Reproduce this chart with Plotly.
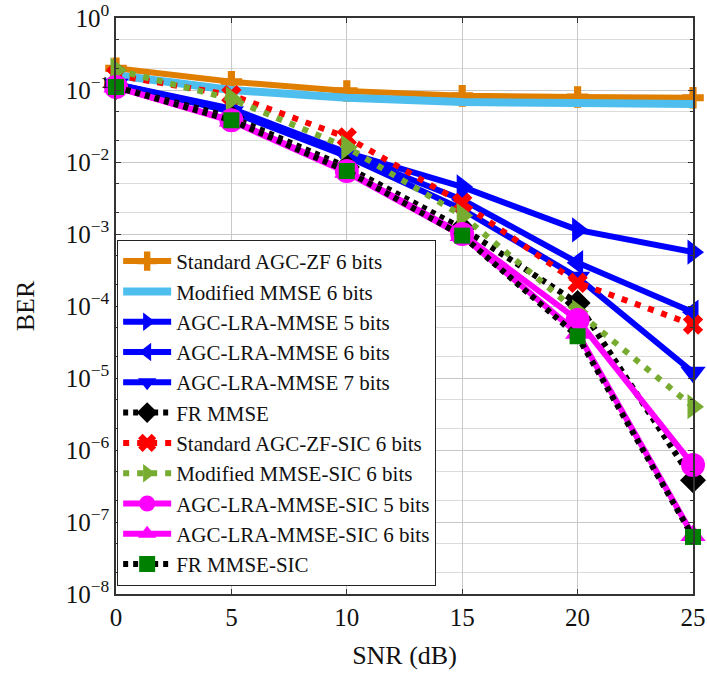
import plotly.graph_objects as go

snr = [0, 5, 10, 15, 20, 25]

std_agc_zf_6 = [0.20, 0.13, 0.097, 0.083, 0.080, 0.078]
mod_mmse_6 = [0.16, 0.10, 0.078, 0.068, 0.066, 0.064]
agc_lra_mmse_5 = [0.12, 0.055, 0.0135, 0.0045, 0.00114, 0.00056]
agc_lra_mmse_6 = [0.12, 0.052, 0.013, 0.0030, 0.00040, 0.000082]
agc_lra_mmse_7 = [0.12, 0.050, 0.012, 0.0022, 0.00025, 0.000012]
fr_mmse = [0.11, 0.042, 0.0085, 0.0012, 0.00011, 3.8e-7]
std_agc_zf_sic_6 = [0.16, 0.085, 0.022, 0.0027, 0.00021, 0.000055]
mod_mmse_sic_6 = [0.19, 0.075, 0.016, 0.0018, 0.000083, 4.0e-6]
agc_lra_mmse_sic_5 = [0.11, 0.038, 0.0075, 0.0010, 0.000064, 6.2e-7]
agc_lra_mmse_sic_6 = [0.11, 0.037, 0.0072, 0.00095, 0.000042, 6.5e-8]
fr_mmse_sic = [0.11, 0.038, 0.0075, 0.00095, 0.000038, 6.2e-8]

ytick_vals = [1e0, 1e-1, 1e-2, 1e-3, 1e-4, 1e-5, 1e-6, 1e-7, 1e-8]
ytick_text = ["10<sup>0</sup>", "10<sup>−1</sup>", "10<sup>−2</sup>", "10<sup>−3</sup>",
              "10<sup>−4</sup>", "10<sup>−5</sup>", "10<sup>−6</sup>", "10<sup>−7</sup>",
              "10<sup>−8</sup>"]

series = [
    ("Standard AGC-ZF 6 bits", std_agc_zf_6, "#E07E00", "solid", 6, "cross", 18),
    ("Modified MMSE 6 bits", mod_mmse_6, "#4DBEEE", "solid", 8, None, 0),
    ("AGC-LRA-MMSE 5 bits", agc_lra_mmse_5, "#0000FF", "solid", 6, "triangle-right", 22),
    ("AGC-LRA-MMSE 6 bits", agc_lra_mmse_6, "#0000FF", "solid", 6, "triangle-left", 22),
    ("AGC-LRA-MMSE 7 bits", agc_lra_mmse_7, "#0000FF", "solid", 6, "triangle-down", 22),
    ("FR MMSE", fr_mmse, "#000000", "5px,5px", 6, "diamond", 20),
    ("Standard AGC-ZF-SIC 6 bits", std_agc_zf_sic_6, "#FF0000", "6px,8px", 6, "x", 18),
    ("Modified MMSE-SIC 6 bits", mod_mmse_sic_6, "#77AC30", "6px,8px", 6, "triangle-right", 22),
    ("AGC-LRA-MMSE-SIC 5 bits", agc_lra_mmse_sic_5, "#FF00FF", "solid", 6, "circle", 24),
    ("AGC-LRA-MMSE-SIC 6 bits", agc_lra_mmse_sic_6, "#FF00FF", "solid", 6, "triangle-up", 22),
    ("FR MMSE-SIC", fr_mmse_sic, "#000000", "5px,5px", 6, "square", 16),
]

SERIF = "Liberation Serif, Times New Roman, Times, serif"

fig = go.Figure()
for name, ys, color, dash, lw, sym, ms in series:
    mcolor = "#008000" if name == "FR MMSE-SIC" else color
    kw = dict(mode="lines+markers", marker=dict(symbol=sym, size=ms, color=mcolor,
                                                  line=dict(width=0)))
    if sym is None:
        kw = dict(mode="lines")
    fig.add_trace(go.Scatter(x=snr, y=ys, name=name,
                             line=dict(color=color, width=lw, dash=dash),
                             cliponaxis=False, **kw))

axis_font = dict(family=SERIF, size=25, color="#111")
fig.update_layout(
    width=707, height=677,
    margin=dict(l=116, r=14, t=18, b=83, autoexpand=False),
    paper_bgcolor="white", plot_bgcolor="white",
    font=dict(family=SERIF, color="#111"),
    legend=dict(x=0.002, y=0.014, xanchor="left", yanchor="bottom",
                bgcolor="white", bordercolor="#222", borderwidth=1,
                font=dict(family=SERIF, size=21, color="#111"),
                itemwidth=48, tracegroupgap=0),
    xaxis=dict(range=[0, 25], tickvals=snr, ticktext=[str(v) for v in snr],
               automargin=False,
               showgrid=True, gridcolor="#c8c8c8", gridwidth=1,
               showline=True, linecolor="#333", linewidth=1.5, mirror="ticks",
               ticks="inside", ticklen=5, tickcolor="#333", zeroline=False,
               tickfont=axis_font,
               title=dict(text="SNR (dB)", font=dict(family=SERIF, size=26), standoff=16)),
    yaxis=dict(type="log", range=[-8, 0], tickvals=ytick_vals, ticktext=ytick_text,
               automargin=False,
               showgrid=True, gridcolor="#c8c8c8", gridwidth=1,
               minor=dict(showgrid=True, gridcolor="#dcdcdc", gridwidth=1,
                          ticks="inside", ticklen=3, tickcolor="#333"),
               showline=True, linecolor="#333", linewidth=1.5, mirror="ticks",
               ticks="inside", ticklen=5, tickcolor="#333", zeroline=False,
               tickfont=axis_font,
               title=dict(text="BER", font=dict(family=SERIF, size=26), standoff=24)),
)

fig.write_html("out.html", config={"displayModeBar": False},
               post_script="document.body.style.margin='0';document.body.style.padding='0';")
